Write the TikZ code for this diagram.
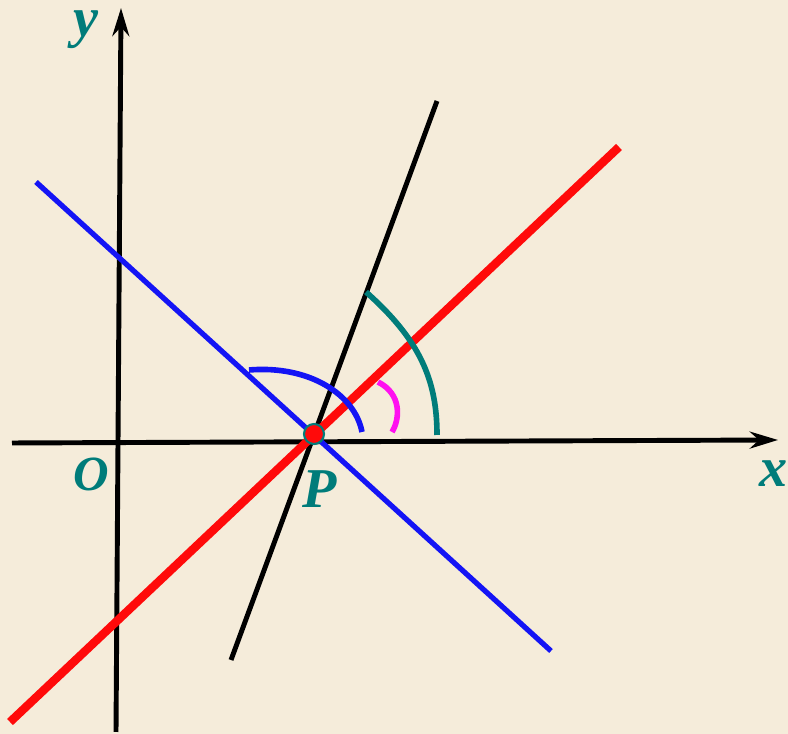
\documentclass[tikz,border=0pt]{standalone}
\usepackage{fontspec}
\setmainfont{Liberation Serif}
\usepackage{xcolor}
\usepackage{tikz}
\usetikzlibrary{arrows.meta}
\definecolor{paperbg}{HTML}{F5ECDA}
\definecolor{labelteal}{HTML}{007C7A}
\definecolor{lineblue}{HTML}{1414F5}
\definecolor{linered}{HTML}{FF0A0A}
\definecolor{arcpink}{HTML}{FF10F0}

\begin{document}
\begin{tikzpicture}[
    axis/.style={line width=1.4pt, -{Stealth[length=8pt, width=4.8pt]}},
    mark label/.style={text=labelteal, inner sep=0pt, font=\fontsize{16}{16}\selectfont\bfseries\itshape},
    anglearc/.style={line width=1.6pt}]
    \useasboundingbox[fill=paperbg] (0,0) rectangle (7.88,7.34);
    % axes
    \coordinate (xstart) at (0.12,2.91);
    \coordinate (xend) at (7.78,2.94);
    \coordinate (ystart) at (1.16,0.02);
    \coordinate (yend) at (1.21,7.26);
    \draw[axis] (xstart) -- (xend);
    \draw[axis] (ystart) -- (yend);
    % the three lines through P
    \coordinate (P) at (3.14,3.00);
    \coordinate (blueA) at (0.36,5.52);
    \coordinate (blueB) at (5.51,0.83);
    \coordinate (blackA) at (2.31,0.74);
    \coordinate (blackB) at (4.37,6.33);
    \coordinate (redA) at (0.10,0.12);
    \coordinate (redB) at (6.19,5.87);
    \draw[lineblue, line width=1.5pt] (blueA) -- (blueB);
    \draw[black, line width=1.4pt] (blackA) -- (blackB);
    \draw[linered, line width=2.4pt] (redA) -- (redB);
    % angle marks
    \draw[anglearc, lineblue] (2.49,3.64) .. controls (3.10,3.69) and (3.55,3.39) .. (3.62,3.02);
    \draw[anglearc, arcpink] (3.78,3.52) .. controls (4.02,3.40) and (4.00,3.15) .. (3.92,3.02);
    \draw[anglearc, labelteal] (3.66,4.42) .. controls (4.20,3.94) and (4.37,3.54) .. (4.37,2.99);
    \node[circle, fill=linered, draw=labelteal, line width=0.6pt, inner sep=0pt, minimum size=0.2cm] (dotP) at (P) {};
    % labels
    \node[mark label] (ylabel) at (0.86,7.04) {y};
    \node[mark label] (xlabel) at (7.74,2.60) {x};
    \node[mark label, font=\fontsize{14}{14}\selectfont\bfseries\itshape] (olabel) at (0.915,2.60) {O};
    \node[mark label] (plabel) at (3.20,2.45) {P};
\end{tikzpicture}
\end{document}
